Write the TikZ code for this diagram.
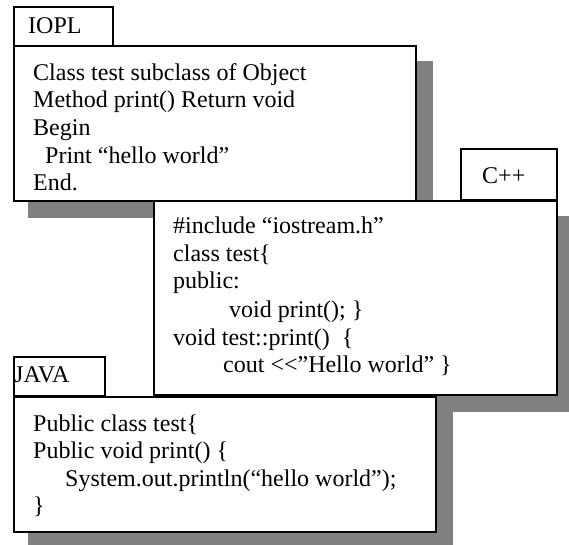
\documentclass[tikz,border=0pt]{standalone}
\usepackage{fontspec}
\setmainfont{Liberation Serif}
\begin{document}
\begin{tikzpicture}[x=1pt,y=-1pt,
  shadowbox/.style={fill=black!50,draw=none},
  framebox/.style={fill=white,draw=black,line width=1.5pt},
  code/.style={anchor=base west,inner sep=0pt,font=\fontsize{24}{27.6}\selectfont}]
\useasboundingbox (0,0) rectangle (569,544);

% IOPL panel
\fill[shadowbox] (28,61) rectangle (433,218);
\draw[framebox] (14,46) rectangle (416,201);
\draw[framebox] (14,7) rectangle (113,46);
\node[code] (ioplTag) at (28,33) {IOPL};
\node[code] (iopl1) at (33,80) {Class test subclass of Object};
\node[code] (iopl2) at (33,107.5) {Method print() Return void};
\node[code] (iopl3) at (33,135) {Begin};
\node[code] (iopl4) at (45,163) {Print “hello world”};
\node[code] (iopl5) at (33,190) {End.};

% C++ panel
\fill[shadowbox] (170,216) rectangle (580,412);
\draw[framebox] (154,201) rectangle (557,395);
\draw[framebox] (461,149) rectangle (557,200);
\node[code] (cppTag) at (482,183) {C++};
\node[code] (cpp1) at (173,233) {\#include “iostream.h”};
\node[code] (cpp2) at (173,261) {class test\{};
\node[code] (cpp3) at (173,288) {public:};
\node[code] (cpp4) at (229,317) {void print(); \}};
\node[code] (cpp5) at (173,345) {void test::print()\ \ \{};
\node[code] (cpp6) at (223,372) {cout <\kern0pt<”Hello world” \}};

% JAVA panel
\fill[shadowbox] (28,412) rectangle (453,560);
\draw[framebox] (14,397) rectangle (436,532);
\draw[framebox] (14,357) rectangle (105,396);
\node[code] (javaTag) at (14,382) {JAVA};
\node[code] (java1) at (33,431) {Public class test\{};
\node[code] (java2) at (33,458.5) {Public void print() \{};
\node[code] (java3) at (65,486) {System.out.println(“hello world”);};
\node[code] (java4) at (33,513.5) {\}};
\end{tikzpicture}
\end{document}
